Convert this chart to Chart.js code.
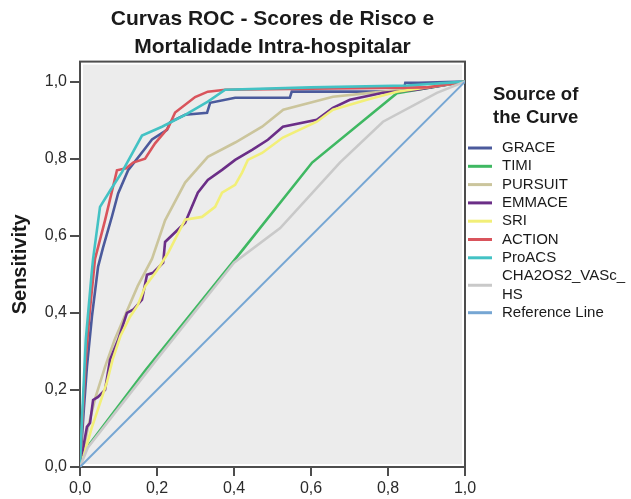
<!DOCTYPE html>
<html>
<head>
<meta charset="utf-8">
<title>Curvas ROC</title>
<script src="https://cdn.jsdelivr.net/npm/chart.js@4/dist/chart.umd.min.js"></script>
<style>
  html, body { margin: 0; padding: 0; background: #ffffff; }
  #wrap { position: relative; width: 631px; height: 499px; }
</style>
</head>
<body>
<div id="wrap"><canvas id="roc"></canvas></div>
<script>
// ROC points per score: [1 - specificity, sensitivity]
const grace = [[0,0],[0.004,0.06],[0.01,0.15],[0.018,0.26],[0.031,0.39],[0.047,0.52],[0.06,0.57],[0.083,0.65],[0.099,0.71],[0.125,0.77],[0.164,0.82],[0.187,0.85],[0.226,0.875],[0.234,0.895],[0.273,0.914],[0.33,0.919],[0.338,0.945],[0.403,0.958],[0.545,0.958],[0.55,0.974],[0.84,0.974],[0.845,0.997],[0.88,0.997],[1,1]]
const timi = [[0,0],[0.013,0.044],[0.171,0.252],[0.423,0.564],[0.603,0.79],[0.823,0.97],[1,1]]
const pursuit = [[0,0],[0.008,0.04],[0.02,0.1],[0.04,0.18],[0.065,0.26],[0.09,0.33],[0.12,0.4],[0.15,0.47],[0.187,0.54],[0.221,0.64],[0.273,0.738],[0.332,0.805],[0.403,0.842],[0.473,0.883],[0.528,0.927],[0.657,0.961],[0.787,0.974],[0.9,0.985],[1,1]]
const emmace = [[0,0],[0.01,0.06],[0.018,0.104],[0.026,0.114],[0.034,0.174],[0.047,0.182],[0.065,0.2],[0.078,0.278],[0.099,0.33],[0.122,0.4],[0.138,0.408],[0.161,0.434],[0.174,0.499],[0.19,0.504],[0.216,0.53],[0.221,0.584],[0.273,0.634],[0.306,0.712],[0.332,0.745],[0.369,0.771],[0.403,0.797],[0.447,0.823],[0.488,0.849],[0.527,0.883],[0.615,0.901],[0.657,0.932],[0.701,0.953],[0.787,0.971],[0.875,0.979],[1,1]]
const sri = [[0,0],[0.01,0.03],[0.03,0.1],[0.05,0.16],[0.07,0.22],[0.085,0.28],[0.105,0.34],[0.13,0.39],[0.15,0.42],[0.17,0.47],[0.2,0.51],[0.229,0.556],[0.273,0.642],[0.317,0.649],[0.351,0.675],[0.369,0.712],[0.403,0.732],[0.421,0.764],[0.436,0.797],[0.473,0.815],[0.527,0.855],[0.615,0.896],[0.657,0.927],[0.745,0.953],[0.823,0.974],[0.9,0.985],[1,1]]
const action = [[0,0],[0.006,0.12],[0.015,0.28],[0.025,0.4],[0.035,0.5],[0.039,0.54],[0.065,0.64],[0.096,0.77],[0.12,0.775],[0.138,0.79],[0.169,0.8],[0.195,0.84],[0.229,0.88],[0.247,0.92],[0.299,0.96],[0.332,0.974],[0.377,0.979],[0.6,0.982],[0.9,0.985],[1,1]]
const proacs = [[0,0],[0.005,0.12],[0.015,0.33],[0.03,0.5],[0.034,0.54],[0.052,0.675],[0.08,0.72],[0.109,0.765],[0.161,0.86],[0.213,0.883],[0.273,0.914],[0.332,0.948],[0.377,0.979],[0.6,0.985],[0.85,0.99],[1,1]]
const cha2ds2 = [[0,0],[0.02,0.05],[0.2,0.28],[0.4,0.53],[0.52,0.62],[0.675,0.79],[0.787,0.896],[0.927,0.971],[1,1]]
const reference = [[0,0],[1,1]]

const seriesNames = ['GRACE', 'TIMI', 'PURSUIT', 'EMMACE', 'SRI', 'ACTION', 'ProACS', 'CHA2OS2_VASc_HS', 'Reference Line']
const seriesPoints = [grace, timi, pursuit, emmace, sri, action, proacs, cha2ds2, reference]
const seriesColors = ['#4b5a9c', '#3fb862', '#cbc59c', '#6b2e87', '#f2ef78', '#d9545c', '#43c2c4', '#c9c9c9', '#76a6d3']

const xTicks = [0, 0.2, 0.4, 0.6, 0.8, 1.0]
const yTicks = [0, 0.2, 0.4, 0.6, 0.8, 1.0]

const titleLines = ['Curvas ROC - Scores de Risco e', 'Mortalidade Intra-hospitalar']
const legendTitle = ['Source of', 'the Curve']
const yAxisTitle = 'Sensitivity'

const FONT = "'Liberation Sans', Arial, Helvetica, sans-serif"
const FRAME = '#4d4d4d'

// comma decimals, as in the Portuguese labels
const fmt = v => v.toFixed(1).replace('.', ',')

// grey panel with a thin white inset and a dark frame
const plotFrame = {
  id: 'plotFrame',
  beforeDatasetsDraw(chart) {
    const { ctx, chartArea: a } = chart
    ctx.save()
    ctx.fillStyle = '#ececec'
    ctx.fillRect(a.left + 3, a.top + 3, a.right - a.left - 6, a.bottom - a.top - 6)
    ctx.strokeStyle = FRAME
    ctx.lineWidth = 2
    ctx.strokeRect(a.left, a.top, a.right - a.left, a.bottom - a.top)
    ctx.restore()
  }
}

// legend on the right, long names wrap after an underscore
const sideLegend = {
  id: 'sideLegend',
  afterDraw(chart) {
    const { ctx, chartArea: a } = chart
    const textX = 502
    const step = 18.3
    const maxW = 120
    ctx.save()
    ctx.fillStyle = '#1a1a1a'
    ctx.textBaseline = 'middle'
    ctx.font = 'bold 18.5px ' + FONT
    legendTitle.forEach((t, i) => ctx.fillText(t, 493, 95 + i * 23))

    ctx.font = '15px ' + FONT
    let y = 148
    chart.data.datasets.forEach(ds => {
      let lines = [ds.label]
      if (ctx.measureText(ds.label).width > maxW) {
        const cut = ds.label.lastIndexOf('_') + 1
        lines = [ds.label.slice(0, cut), ds.label.slice(cut)]
      }
      const midY = y + (lines.length - 1) * step / 2
      ctx.strokeStyle = ds.borderColor
      ctx.lineWidth = 3
      ctx.beginPath()
      ctx.moveTo(a.right + 3, midY)
      ctx.lineTo(492, midY)
      ctx.stroke()
      ctx.fillStyle = '#1a1a1a'
      lines.forEach((l, i) => ctx.fillText(l, textX, y + i * step))
      y += lines.length * step
    })
    ctx.restore()
  }
}

const datasets = seriesNames.map((name, i) => ({
  label: name,
  data: seriesPoints[i].map(p => ({ x: p[0], y: p[1] })),
  borderColor: seriesColors[i],
  backgroundColor: seriesColors[i],
  borderWidth: i === seriesNames.length - 1 ? 2 : 2.6,
  pointRadius: 0,
  tension: 0,
  fill: false,
  order: seriesNames.length - i
}))

new Chart(document.getElementById('roc'), {
  type: 'line',
  data: { datasets },
  options: {
    responsive: true,
    maintainAspectRatio: false,
    animation: false,
    layout: { padding: { top: 0, right: 166, bottom: 0, left: 0 } },
    plugins: {
      legend: { display: false },
      tooltip: { enabled: false },
      title: {
        display: true,
        fullSize: false,
        text: titleLines,
        color: '#1a1a1a',
        font: { family: FONT, size: 21, weight: 'bold', lineHeight: 1.3 },
        padding: { top: 6, bottom: 1 }
      }
    },
    scales: {
      x: {
        type: 'linear',
        min: 0,
        max: 1,
        afterBuildTicks: s => { s.ticks = xTicks.map(v => ({ value: v })) },
        afterFit: s => { s.height = 32 },
        ticks: {
          callback: v => fmt(v),
          color: '#2b2b2b',
          font: { family: FONT, size: 16 },
          padding: 3,
          maxRotation: 0
        },
        grid: { drawOnChartArea: false, drawTicks: true, tickLength: 9, color: FRAME, lineWidth: 2 },
        border: { display: true, color: FRAME, width: 2 }
      },
      y: {
        type: 'linear',
        min: 0,
        max: 1.052,
        afterBuildTicks: s => { s.ticks = yTicks.map(v => ({ value: v })) },
        afterFit: s => { s.width = 80 },
        ticks: {
          callback: v => fmt(v),
          color: '#2b2b2b',
          font: { family: FONT, size: 16 },
          padding: 3
        },
        grid: { drawOnChartArea: false, drawTicks: true, tickLength: 10, color: FRAME, lineWidth: 2 },
        border: { display: true, color: FRAME, width: 2 },
        title: {
          display: true,
          text: yAxisTitle,
          color: '#1a1a1a',
          font: { family: FONT, size: 20, weight: 'bold', lineHeight: 1.2 },
          padding: { top: 8, bottom: 0 }
        }
      }
    }
  },
  plugins: [plotFrame, sideLegend]
})
</script>
</body>
</html>
